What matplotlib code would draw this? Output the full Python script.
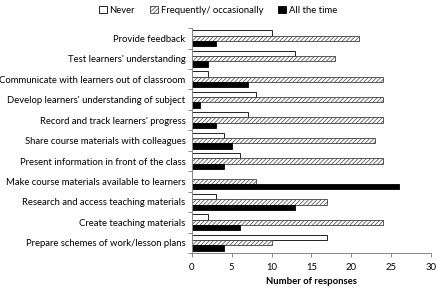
import numpy as np
import matplotlib
import matplotlib.pyplot as plt

matplotlib.use('agg')
plt.rcParams.update({"font.size": 6.8, "font.family": ["Lato", "DejaVu Sans"], "hatch.linewidth": 0.5})

categories = [
    "Provide feedback",
    "Test learners' understanding",
    "Communicate with learners out of classroom",
    "Develop learners' understanding of subject",
    "Record and track learners' progress",
    "Share course materials with colleagues",
    "Present information in front of the class",
    "Make course materials available to learners",
    "Research and access teaching materials",
    "Create teaching materials",
    "Prepare schemes of work/lesson plans",
]
never = [10, 13, 2, 8, 7, 4, 6, 0, 3, 2, 17]
frequently = [21, 18, 24, 24, 24, 23, 24, 8, 17, 24, 10]
all_the_time = [3, 2, 7, 1, 3, 5, 4, 26, 13, 6, 4]
x_ticks = [0, 5, 10, 15, 20, 25, 30]

fig = plt.figure(figsize=(4.36, 2.93), dpi=100)
ax = fig.add_axes([0.440, 0.1365, 0.5485, 0.7675])

y = np.arange(len(categories))
h = 0.26
ax.barh(y - h, never, height=h, color="white", edgecolor="black", linewidth=0.6, label="Never")
ax.barh(y, frequently, height=h, color="white", edgecolor="#404040", hatch="////////",
        linewidth=0.6, label="Frequently/ occasionally")
ax.barh(y + h, all_the_time, height=h, color="black", edgecolor="black", linewidth=0.6,
        label="All the time")

ax.set_ylim(len(categories) - 0.5, -0.5)
ax.set_xlim(0, 30)
ax.set_xticks(x_ticks)
ax.set_yticks(y)
ax.set_yticklabels(categories)
ax.set_yticks(np.arange(len(categories) + 1) - 0.5, minor=True)
ax.tick_params(axis="y", which="major", length=0, pad=4.5)
ax.tick_params(axis="y", which="minor", length=3, color="#888888", width=0.7)
ax.tick_params(axis="x", length=3, color="#888888", width=0.7, pad=4)
for s in ["top", "right"]:
    ax.spines[s].set_visible(False)
for s in ["left", "bottom"]:
    ax.spines[s].set_color("#888888")
    ax.spines[s].set_linewidth(0.7)
ax.set_xlabel("Number of responses", fontweight="bold", labelpad=4)

fig.legend(loc="center", bbox_to_anchor=(0.5, 0.965), ncol=3, frameon=False,
           handlelength=0.8, handleheight=0.8, handletextpad=0.3, columnspacing=1.6)

plt.savefig("out.png", dpi=100)
